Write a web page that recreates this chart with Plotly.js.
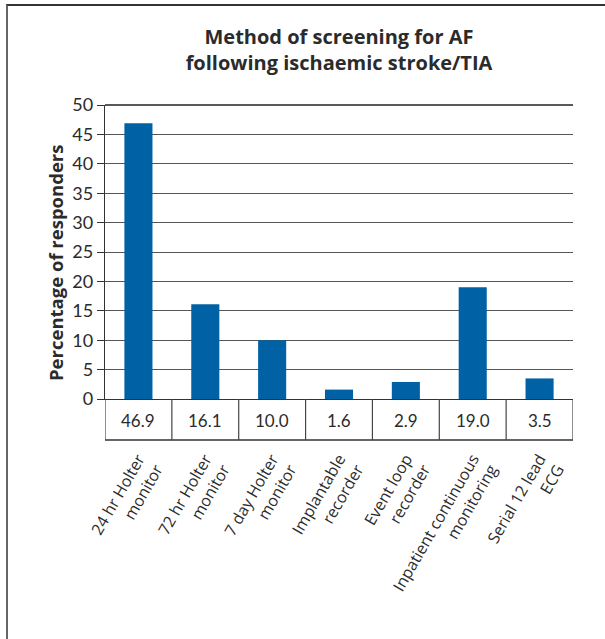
<!DOCTYPE html>
<html>
<head>
<meta charset="utf-8">
<script src="https://cdn.plot.ly/plotly-3.0.1.min.js"></script>
<style>
html,body{margin:0;padding:0;background:#fff;overflow:hidden;}
#wrap{position:relative;width:605px;height:639px;}
#chart{width:605px;height:639px;}
#frame{position:absolute;left:6px;top:4px;width:599px;height:635px;box-sizing:border-box;
  border-top:2px solid #333;border-left:2px solid #666;pointer-events:none;}
</style>
</head>
<body>
<div id="wrap">
<div id="chart"></div>
<div id="frame"></div>
</div>
<script>
// ---- data ----
const categories = [
  "24 hr Holter<br>monitor",
  "72 hr Holter<br>monitor",
  "7 day Holter<br>monitor",
  "Implantable<br>recorder",
  "Event loop<br>recorder",
  "Inpatient continuous<br>monitoring",
  "Serial 12 lead<br>ECG"
];
const values = [46.9, 16.1, 10.0, 1.6, 2.9, 19.0, 3.5];
const tableLabels = ["46.9", "16.1", "10.0", "1.6", "2.9", "19.0", "3.5"];
const yTicks = [0, 5, 10, 15, 20, 25, 30, 35, 40, 45, 50];

// ---- layout geometry ----
const W = 605, H = 639;
const L = 105, R = 32, T = 105, B = 240;
const pw = W - L - R, ph = H - T - B;
const px = x => (x - L) / pw;          // pixel -> paper x
const py = y => (H - B - y) / ph;      // pixel -> paper y
const tableBottom = py(440);

const textCol = '#2b2b2b';
const font = 'Lato, "Open Sans", sans-serif';
const boldFont = '"Open Sans", sans-serif';

const shapes = [];
// table bottom line
shapes.push({type:'line', xref:'x', yref:'paper', x0:-0.5, x1:categories.length-0.5,
  y0:tableBottom, y1:tableBottom, line:{color:'#333', width:1.3}});
// table vertical dividers
for (let i = 0; i <= categories.length; i++) {
  shapes.push({type:'line', xref:'x', yref:'paper', x0:i-0.5, x1:i-0.5,
    y0:0, y1:tableBottom, line:{color:'#444', width:1.2}});
}
// top gridline darker
shapes.push({type:'line', xref:'paper', yref:'paper', x0:0, x1:1,
  y0:1, y1:1, line:{color:'#222', width:1.3}});

const annotations = categories.map((c, i) => ({
  x: c, y: py(420), xref:'x', yref:'paper', xanchor:'center', yanchor:'middle',
  text: tableLabels[i], showarrow:false,
  font:{family:font, size:17, color:textCol}
}));
annotations.push({
  x: px(55), y: py(263), xref:'paper', yref:'paper', textangle:-90,
  xanchor:'center', yanchor:'middle',
  text:'<b>Percentage of responders</b>', showarrow:false,
  font:{family:boldFont, size:18.5, color:textCol}
});

const trace = {
  type:'bar', x: categories, y: values,
  marker:{color:'#0062a5'}, hoverinfo:'skip'
};

const layout = {
  width:W, height:H,
  margin:{l:L, r:R, t:T, b:B, pad:0},
  paper_bgcolor:'#fff', plot_bgcolor:'#fff',
  showlegend:false,
  bargap:0.58,
  title:{
    text:'<b>Method of screening for AF<br>following ischaemic stroke/TIA</b>',
    x:0.5, xref:'paper', xanchor:'center', y: 1 - 44/H, yanchor:'middle',
    font:{family:boldFont, size:20, color:textCol}
  },
  xaxis:{
    type:'category', range:[-0.5, categories.length-0.5],
    showline:true, linecolor:'#333', linewidth:1.3,
    ticks:'', showgrid:false, zeroline:false,
    tickangle:-60, ticklabelstandoff:43,
    tickfont:{family:'"Open Sans", sans-serif', size:16, color:textCol}
  },
  yaxis:{
    range:[0, 50], tickvals:yTicks, ticktext:yTicks.map(String),
    showline:true, linecolor:'#333', linewidth:1.3,
    ticks:'outside', ticklen:7, tickcolor:'#333', tickwidth:1,
    showgrid:true, gridcolor:'#555', gridwidth:1, zeroline:false,
    tickfont:{family:font, size:18, color:textCol}
  },
  shapes: shapes,
  annotations: annotations
};

Plotly.newPlot('chart', [trace], layout, {staticPlot:true, displayModeBar:false});
</script>
</body>
</html>
